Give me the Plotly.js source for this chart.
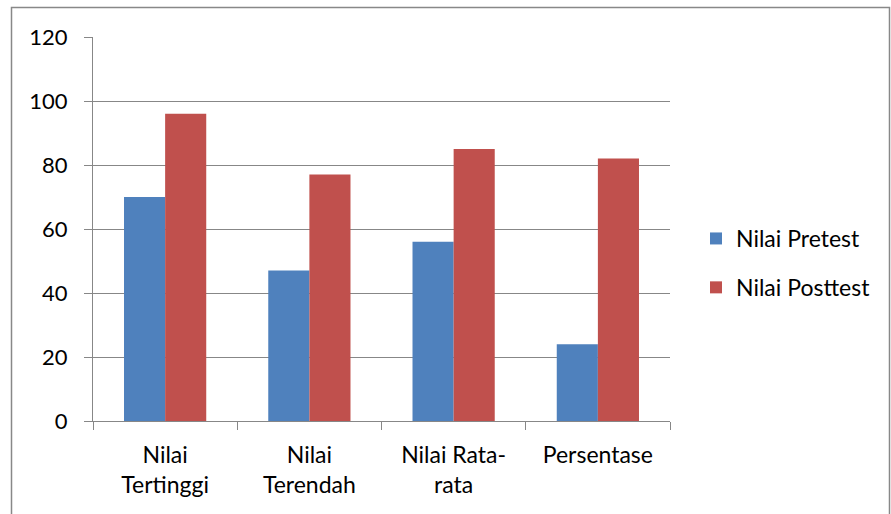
<!DOCTYPE html>
<html><head><meta charset="utf-8">
<script src="https://cdn.plot.ly/plotly-3.0.1.min.js"></script>
<style>html,body{margin:0;padding:0;background:#fff;}</style>
</head><body>
<div id="chart" style="width:891px;height:514px;"></div>
<script>
var categories = ["Nilai<br>Tertinggi", "Nilai<br>Terendah", "Nilai Rata-<br>rata", "Persentase"];
var pretest = [70, 47, 56, 24];
var posttest = [96, 77, 85, 82];
var seriesNames = ["Nilai Pretest", "Nilai Posttest"];
var yTicks = [0, 20, 40, 60, 80, 100, 120];

var F = "Lato, 'Open Sans', sans-serif";
var data = [
  {type: "bar", x: categories, y: pretest, name: seriesNames[0], legendgroup: "a",
   marker: {color: "#4F81BD", line: {width: 0}}},
  {type: "bar", x: categories, y: posttest, name: seriesNames[1], legendgroup: "b",
   marker: {color: "#C0504D", line: {width: 0}}}
];
var L = 93, R = 221, T = 37, B = 93, W = 891, H = 514;
var pw = W - L - R, ph = H - T - B;
function px(x){return (x - L)/pw;}
function py(y){return (H - B - y)/ph;}
var layout = {
  width: W, height: H,
  margin: {l: L, r: R, t: T, b: B, pad: 0},
  paper_bgcolor: "#fff", plot_bgcolor: "#fff",
  font: {family: F, size: 23, color: "#000"},
  barmode: "group", bargap: 0.43, bargroupgap: 0,
  showlegend: true,
  legend: {x: px(696), y: py(263), xanchor: "left", yanchor: "middle",
           traceorder: "grouped", tracegroupgap: 16, font: {family: F, size: 23, color: "#000"},
           itemwidth: 30},
  xaxis: {type: "category", showgrid: false, showline: true, linecolor: "#878787", linewidth: 1,
          ticks: "outside", tickson: "boundaries", ticklen: 8, tickcolor: "#878787",
          tickfont: {family: F, size: 23, color: "#000"}, ticklabelstandoff: 13,
          zeroline: false, fixedrange: true},
  yaxis: {range: [0, 120], tickvals: yTicks, ticktext: yTicks.map(String),
          showgrid: true, gridcolor: "#878787", gridwidth: 1,
          showline: true, linecolor: "#878787", linewidth: 1,
          ticks: "outside", ticklen: 8, tickcolor: "#878787",
          tickfont: {family: F, size: 22, color: "#000"}, ticklabelstandoff: 12,
          zeroline: false, fixedrange: true},
  shapes: [
    {type: "rect", xref: "paper", yref: "paper",
     x0: px(11.5), x1: px(889.5), y0: py(530), y1: py(7.5),
     line: {color: "#888", width: 1.5}, fillcolor: "rgba(0,0,0,0)", layer: "below"}
  ]
};
Plotly.newPlot("chart", data, layout, {displayModeBar: false, staticPlot: true});
</script>
</body></html>
